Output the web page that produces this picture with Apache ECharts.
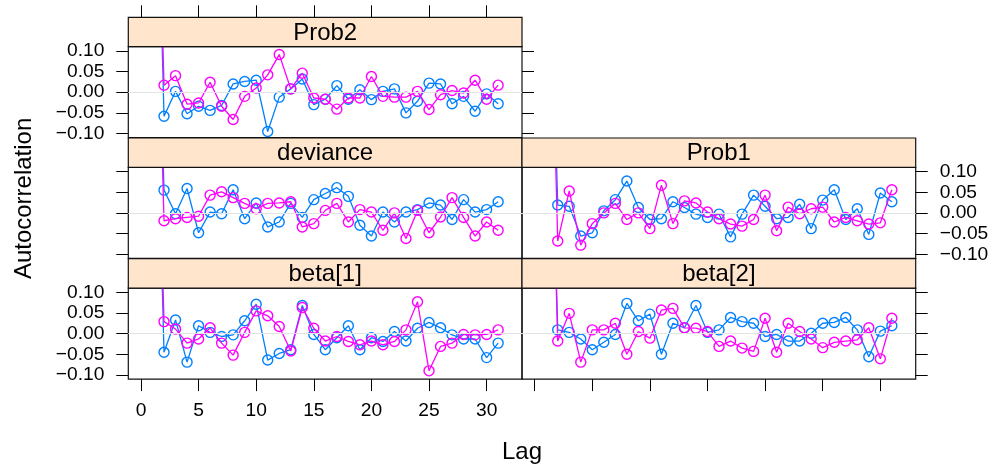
<!DOCTYPE html>
<html><head><meta charset="utf-8">
<script src="https://cdn.jsdelivr.net/npm/echarts@6/dist/echarts.min.js"></script>
<style>html,body{margin:0;padding:0;background:#fff}#c{width:996px;height:475px}</style>
</head><body><div id="c"></div>
<script>
// ---- data ----
const lags = [1,2,3,4,5,6,7,8,9,10,11,12,13,14,15,16,17,18,19,20,21,22,23,24,25,26,27,28,29,30,31];
const xTicks = [0,5,10,15,20,25,30];
const yTicks = [-0.1,-0.05,0,0.05,0.1];
const panelNames = ['Prob2','deviance','Prob1','beta[1]','beta[2]'];

const prob2Chain1 = [1, -0.058, 0.002, -0.052, -0.034, -0.044, -0.032, 0.020, 0.026, 0.029, -0.095, -0.012, 0.008, 0.032, -0.030, -0.017, 0.016, -0.017, 0.006, -0.018, 0.002, 0.008, -0.050, -0.022, 0.022, 0.020, -0.028, -0.010, -0.046, -0.004, -0.028];
const prob2Chain2 = [1, 0.017, 0.040, -0.029, -0.026, 0.024, -0.034, -0.066, -0.010, 0.010, 0.042, 0.091, 0.008, 0.046, -0.014, -0.017, -0.041, -0.014, -0.014, 0.038, -0.010, -0.012, -0.012, 0.002, -0.042, -0.006, 0.004, -0.002, 0.029, -0.017, 0.017];
const devChain1 = [1, 0.055, -0.002, 0.059, -0.048, 0.002, -0.002, 0.056, -0.014, 0.024, -0.034, -0.022, 0.023, -0.011, 0.032, 0.047, 0.061, 0.040, -0.030, -0.056, 0.002, -0.022, 0.002, 0.008, 0.024, 0.019, -0.016, 0.032, 0.002, 0.008, 0.027];
const devChain2 = [1, -0.019, -0.014, -0.011, -0.008, 0.043, 0.051, 0.037, 0.023, 0.010, 0.023, 0.024, 0.027, -0.034, -0.026, 0.006, 0.023, -0.022, 0.008, 0.002, -0.042, 0.000, -0.062, 0.006, -0.048, -0.010, 0.037, -0.011, -0.056, -0.022, -0.042];
const prob1Chain1 = [1, 0.019, 0.016, -0.056, -0.048, 0.005, 0.032, 0.077, 0.013, -0.016, -0.014, 0.027, 0.013, -0.003, -0.011, -0.003, -0.058, -0.003, 0.043, 0.016, -0.014, -0.011, 0.021, -0.038, 0.031, 0.056, -0.016, 0.010, -0.052, 0.048, 0.027];
const prob1Chain2 = [1, -0.068, 0.053, -0.078, -0.026, 0.000, 0.023, -0.016, 0.000, -0.038, 0.067, -0.026, 0.029, 0.024, 0.002, -0.014, -0.027, -0.032, -0.016, 0.043, -0.043, 0.014, -0.002, 0.010, 0.014, -0.022, -0.011, -0.019, -0.027, -0.024, 0.056];
const beta1Chain1 = [1, -0.045, 0.033, -0.069, 0.019, 0.003, -0.007, -0.003, 0.031, 0.071, -0.064, -0.048, -0.039, 0.068, -0.002, -0.039, -0.010, 0.019, -0.039, -0.010, -0.019, 0.005, -0.018, 0.013, 0.027, 0.014, -0.003, -0.013, -0.013, -0.058, -0.023];
const beta1Chain2 = [1, 0.029, 0.011, -0.023, -0.013, 0.014, -0.023, -0.052, 0.003, 0.055, 0.043, 0.017, -0.042, 0.063, 0.013, -0.018, -0.007, -0.019, -0.027, -0.018, -0.027, -0.019, 0.009, 0.077, -0.090, -0.031, -0.023, -0.002, -0.003, -0.002, 0.009];
const beta2Chain1 = [1, 0.009, 0.003, -0.013, -0.039, -0.021, -0.002, 0.073, 0.031, 0.047, -0.050, 0.025, 0.014, 0.068, 0.003, 0.009, 0.039, 0.029, 0.025, -0.007, -0.002, -0.018, -0.018, 0.001, 0.025, 0.027, 0.039, 0.009, -0.056, 0.006, 0.019];
const beta2Chain2 = [1, -0.018, 0.049, -0.069, 0.009, 0.009, 0.025, -0.050, 0.005, -0.011, 0.057, 0.061, 0.014, 0.013, 0.005, -0.031, -0.018, -0.035, -0.043, 0.037, -0.045, 0.025, 0.005, -0.013, -0.034, -0.021, -0.018, -0.015, 0.014, -0.061, 0.037];

const chain1 = [prob2Chain1, devChain1, prob1Chain1, beta1Chain1, beta2Chain1];
const chain2 = [prob2Chain2, devChain2, prob1Chain2, beta1Chain2, beta2Chain2];

// ---- layout ----
const FONT = '"Liberation Sans", Arial, Helvetica, sans-serif';
const colLeft = [128.3, 522.0];
const panelW = 393.7;
const stripTop = [17.3, 138.0, 258.7];
const stripH = 29.4;
const panelH = 91.0;
const pos = [[0,0],[0,1],[1,1],[0,2],[1,2]];
const XMIN = -1.1, XMAX = 33.07, YMIN = -0.11, YMAX = 0.11;
const C1 = '#0080ff', C2 = '#ff00ff';
const fmtY = v => (v < 0 ? '\u2212' : '') + Math.abs(v).toFixed(2);

const grids = [], xAxes = [], yAxes = [], series = [], graphics = [];

const tk = (show, vals) => ({show: show, inside: false, length: 12, customValues: vals, lineStyle: {color: '#000', width: 1}});
const lbX = (show) => ({show: show, customValues: xTicks, margin: 22, fontSize: 19.2, color: '#000', fontFamily: FONT});
const lbY = (show) => ({show: show, customValues: yTicks, margin: 24, fontSize: 19.2, color: '#000', fontFamily: FONT, formatter: fmtY});

function xAxis(gi, position, offset, ticks, labels) {
  return {type: 'value', gridIndex: gi, min: XMIN, max: XMAX, position: position, offset: offset,
    axisLine: {show: false, onZero: false}, splitLine: {show: false},
    axisTick: tk(ticks, xTicks), axisLabel: lbX(labels)};
}
function yAxis(gi, position, ticks, labels) {
  return {type: 'value', gridIndex: gi, min: YMIN, max: YMAX, position: position,
    axisLine: {show: false, onZero: false}, splitLine: {show: false},
    axisTick: tk(ticks, yTicks), axisLabel: lbY(labels)};
}

panelNames.forEach((name, i) => {
  const [c, r] = pos[i];
  const left = colLeft[c], top = stripTop[r] + stripH;
  grids.push({left: left, top: top, width: panelW, height: panelH, show: true, borderColor: '#111', borderWidth: 1.2, backgroundColor: 'transparent'});
  graphics.push({type: 'rect', shape: {x: left, y: stripTop[r], width: panelW, height: stripH},
    style: {fill: '#ffe5cc', stroke: '#111', lineWidth: 1.2}, z: 10});
  graphics.push({type: 'text', x: left + panelW / 2, y: stripTop[r] + stripH / 2 + 1,
    style: {text: name, fill: '#000', fontSize: 24, fontFamily: FONT, align: 'center', verticalAlign: 'middle'}, z: 11});
});

xAxes.push(xAxis(0, 'top', stripH, true, false));
xAxes.push(xAxis(1, 'bottom', 0, false, false));
xAxes.push(xAxis(2, 'bottom', 0, false, false));
xAxes.push(xAxis(3, 'bottom', 0, true, true));
xAxes.push(xAxis(4, 'bottom', 0, true, false));

yAxes.push(yAxis(0, 'left', true, true));
yAxes.push(yAxis(1, 'left', true, false));
yAxes.push(yAxis(2, 'right', true, true));
yAxes.push(yAxis(3, 'left', true, true));
yAxes.push(yAxis(4, 'right', true, false));
yAxes.push(yAxis(0, 'right', true, false));

function mkSeries(i, vals, color, z) {
  return {
    type: 'line', xAxisIndex: i, yAxisIndex: i, z: z, clip: true, silent: true, animation: false,
    data: lags.map((l, k) => [l, vals[k]]),
    symbol: 'circle', symbolSize: 10, showAllSymbol: true,
    itemStyle: {color: 'rgba(0,0,0,0)', borderColor: color, borderWidth: 1.4},
    lineStyle: {color: color, width: 1.3}
  };
}
panelNames.forEach((name, i) => {
  series.push({type: 'line', xAxisIndex: i, yAxisIndex: i, data: [], z: 1, silent: true, animation: false,
    markLine: {silent: true, symbol: 'none', label: {show: false}, animation: false,
      lineStyle: {color: '#e3e3e3', width: 1, type: 'solid'}, data: [{yAxis: 0}]}});
  series.push(mkSeries(i, chain1[i], C1, 2));
  series.push(mkSeries(i, chain2[i], C2, 3));
});

graphics.push({type: 'text', x: 24, y: 198.4, rotation: Math.PI / 2,
  style: {text: 'Autocorrelation', fill: '#000', fontSize: 24, fontFamily: FONT, align: 'center', verticalAlign: 'middle'}});
graphics.push({type: 'text', x: 522, y: 452,
  style: {text: 'Lag', fill: '#000', fontSize: 24, fontFamily: FONT, align: 'center', verticalAlign: 'middle'}});

const chart = echarts.init(document.getElementById('c'), null, {renderer: 'canvas'});
chart.setOption({
  animation: false, backgroundColor: '#fff',
  grid: grids, xAxis: xAxes, yAxis: yAxes, series: series, graphic: graphics
});
</script></body></html>
